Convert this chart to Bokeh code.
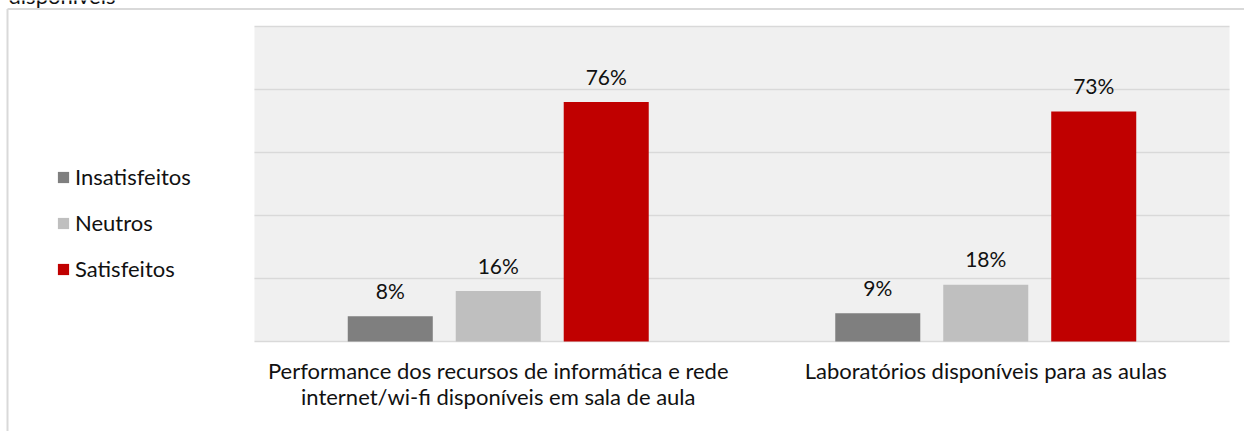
from bokeh.plotting import figure
from bokeh.models import Range1d, ColumnDataSource, Legend, LegendItem, BoxAnnotation
from bokeh.transform import dodge
from bokeh.core.properties import value
from bokeh.embed import file_html
from bokeh.resources import INLINE

# ---- data ----
categories = [
    "Performance dos recursos de informática e rede\ninternet/wi-fi disponíveis em sala de aula",
    "Laboratórios disponíveis para as aulas",
]
series = ["Insatisfeitos", "Neutros", "Satisfeitos"]
insatisfeitos = [8, 9]
neutros = [16, 18]
satisfeitos = [76, 73]
colors = ["#7f7f7f", "#bfbfbf", "#c00000"]
grid_ticks = [0, 20, 40, 60, 80, 100]
title_tail = "disponíveis"

# ---- layout (pixels) ----
W, H = 1244, 431
PL, PR = 254, 1229      # plot area left/right
PT, PB = 26, 341        # plot area top (100%) / bottom (0%)
ncat = len(categories)
xs_per_px = ncat / (PR - PL)
ys_per_px = 100 / (PB - PT)

def px2x(px):
    return (px - PL) * xs_per_px - 0.5

def px2y(py):
    return (PB - py) * ys_per_px

FONT = "Lato"
TXT = "#111111"
FS = "22px"
FS_VAL = "21px"

p = figure(
    x_range=Range1d(px2x(0), px2x(W)),
    y_range=Range1d(px2y(H), px2y(0)),
    width=W, height=H,
    output_backend="svg", toolbar_location=None,
    min_border=0,
)
p.axis.visible = False
p.grid.visible = False
p.background_fill_color = "white"
p.border_fill_color = "white"
p.outline_line_color = None

# plot-area background
p.add_layout(BoxAnnotation(left=-0.5, right=ncat - 0.5, bottom=grid_ticks[0], top=grid_ticks[-1],
                           fill_color="#f0f0f0", fill_alpha=1, line_color=None, level="underlay"))
# gridlines
p.segment(x0=[-0.5] * len(grid_ticks), x1=[ncat - 0.5] * len(grid_ticks),
          y0=grid_ticks, y1=grid_ticks, line_color="#d9d9d9", line_width=1.5)

# outer chart border (top and left)
p.segment(x0=[px2x(7), px2x(7)], x1=[px2x(W + 5), px2x(7)],
          y0=[px2y(8.5), px2y(8.5)], y1=[px2y(8.5), px2y(H + 5)],
          line_color="#d9d9d9", line_width=2)

# clipped title tail at very top
p.text(x=[px2x(8)], y=[px2y(-5)], text=[title_tail], text_align="left",
       text_baseline="alphabetic", text_font=value(FONT), text_font_size=FS, text_color=TXT)

pitch = 0.2215
bw = 0.1744
cat_x = list(range(ncat))
all_vals = [insatisfeitos, neutros, satisfeitos]
items = []
for i, (name, vals, col) in enumerate(zip(series, all_vals, colors)):
    off = (i - 1) * pitch
    src = ColumnDataSource(dict(x=cat_x, val=vals, label=[f"{v}%" for v in vals]))
    r = p.vbar(x=dodge("x", off), top="val", width=bw, source=src,
               fill_color=col, line_color=None)
    items.append(LegendItem(label=name, renderers=[r]))
    p.text(x=dodge("x", off), y="val", text="label", source=src,
           y_offset=-26, text_align="center", text_baseline="alphabetic",
           text_font=value(FONT), text_font_size=FS_VAL, text_color=TXT)

# category labels
p.text(x=cat_x, y=[0] * ncat, text=categories, y_offset=15,
       text_align="center", text_baseline="top", text_line_height=0.97,
       text_font=value(FONT), text_font_size=FS, text_color=TXT)

leg = Legend(items=items, location=(56, H - 282))
leg.border_line_color = None
leg.background_fill_alpha = 0
leg.padding = 0
leg.margin = 0
leg.glyph_width = 14
leg.glyph_height = 14
leg.label_height = 26
leg.spacing = 19
leg.label_standoff = 5
leg.label_text_font = FONT
leg.label_text_font_size = FS
leg.label_text_color = TXT
p.add_layout(leg, "center")

open("out.html", "w").write(file_html(p, INLINE))
